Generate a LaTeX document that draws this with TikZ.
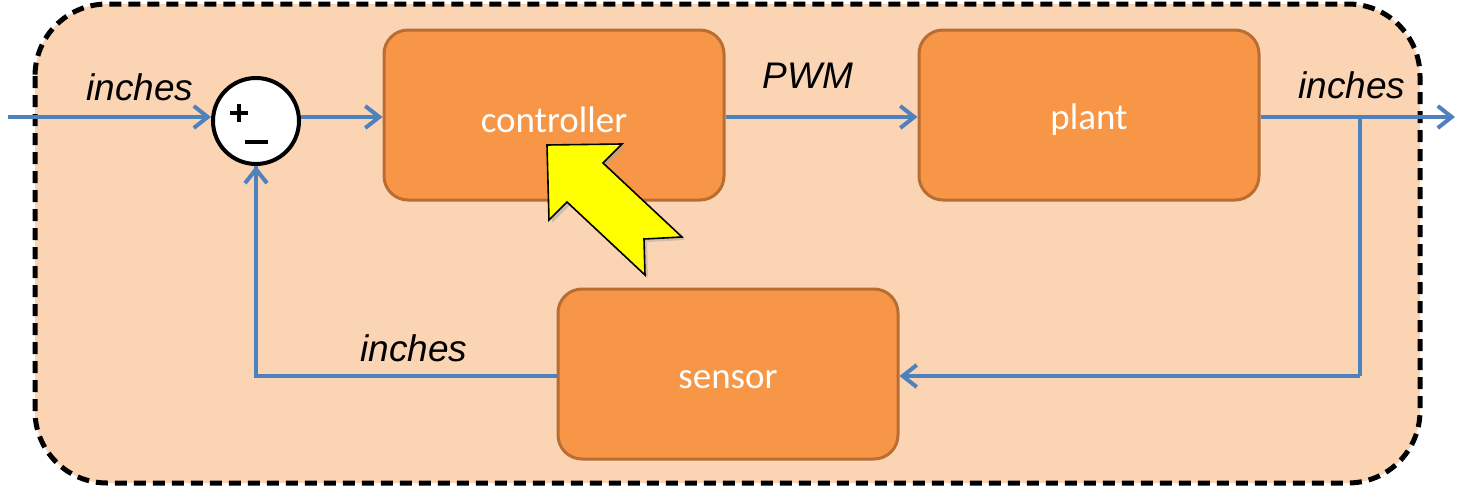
\documentclass[tikz,border=0pt]{standalone}
\usepackage{fontspec}
\setmainfont{Liberation Sans}
\newfontfamily\calib{Carlito}
\usetikzlibrary{arrows.meta}
\definecolor{peach}{HTML}{FBD4B4}
\definecolor{orng}{HTML}{F79646}
\definecolor{orngdark}{HTML}{B96D33}
\definecolor{lineblue}{HTML}{4F81BD}
\definecolor{yel}{HTML}{FFFF00}
\tikzset{
  blockbox/.style={draw=orngdark, line width=1.5pt, fill=orng, rounded corners=12pt,
    minimum width=170pt, minimum height=85pt, inner sep=0pt, text=white,
    font=\calib\fontsize{18.5}{20}\selectfont},
  sig/.style={draw=lineblue, line width=2pt, -{Straight Barb[length=7pt,width=11pt,line width=2pt]}},
  sigline/.style={draw=lineblue, line width=2pt},
  lbl/.style={font=\itshape\fontsize{18.5}{20}\selectfont, inner sep=0pt},
  blocktext/.style={text=white, font=\calib\fontsize{18.5}{20}\selectfont, inner sep=0pt},
}
\begin{document}
\begin{tikzpicture}[x=0.5pt,y=-0.5pt]
\useasboundingbox (0,0) rectangle (1480,487);
% background container
\draw[fill=peach, dash pattern=on 6pt off 3.5pt, line width=2.5pt, rounded corners=36pt]
  (35,4) rectangle (1420,483);
% blocks
\node[blockbox] (ctrl) at (554,115) {};
\node[blocktext] at (554,120) {controller};
\node[blockbox] (plant) at (1089,115) {};
\node[blocktext] at (1089,120) {plant};
\node[blockbox] (sens) at (728,374) {};
\node[blocktext] at (728,380) {sensor};
% summing junction
\node[draw=black, line width=2pt, fill=white, circle, minimum size=43pt, inner sep=0pt] (sum) at (256,121) {};
\draw[line width=2pt] (230,113) -- (248,113) (239,104) -- (239,122);
\draw[line width=2pt] (245,142) -- (268,142);
% coordinates
\coordinate (in) at (8,117);
\coordinate (out) at (1455,117);
\coordinate (br) at (1360,117);
\coordinate (brd) at (1360,376);
\coordinate (fbl) at (256,376);
% connectors
\draw[sig] (in) -- (sum.west |- in);
\draw[sig] (sum.east |- in) -- (ctrl.west |- in);
\draw[sig] (ctrl.east |- in) -- node[lbl, above=13pt, pos=0.43] (pwm) {PWM} (plant.west |- in);
\draw[sig] (plant.east |- in) -- (out);
\draw[sigline] (br) -- (brd);
\draw[sig] (brd) -- (sens.east |- brd);
\draw[sigline, line join=miter] (sens.west |- fbl) -- (fbl) -- (sum.south);
\draw[sig] (fbl) -- (sum.south);
% labels
\node[lbl] (l1) at (140,87) {inches};
\node[lbl] (l2) at (1352,85) {inches};
\node[lbl] (l3) at (414,348) {inches};
% yellow arrow
\fill[black!35, opacity=0.5] (550,148) -- (625,147) -- (606,166) -- (685,240) -- (647,242) -- (648,278) -- (570,205) -- (552,223) -- cycle;
\draw[fill=yel, line width=0.8pt, line join=miter] (547,145) -- (622,144) -- (603,163) -- (682,237) -- (644,239) -- (645,275) -- (567,202) -- (549,220) -- cycle;
\end{tikzpicture}
\end{document}
